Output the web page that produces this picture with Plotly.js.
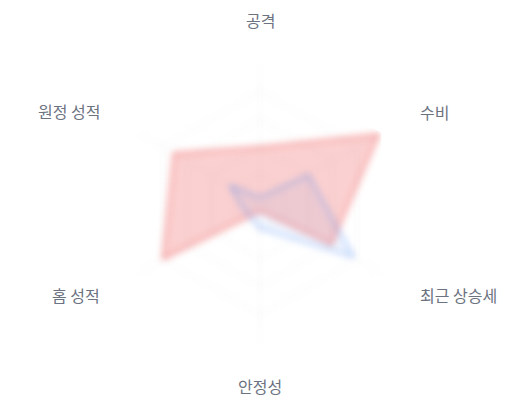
<!DOCTYPE html>
<html>
<head>
<meta charset="utf-8">
<script src="https://cdn.plot.ly/plotly-3.0.1.min.js"></script>
<style>
  html, body { margin: 0; padding: 0; background: #fff; }
  #chart { width: 520px; height: 400px; }
  .polarlayer .frontplot, .polarlayer .radial-grid, .polarlayer .angular-grid { filter: blur(3.5px); }
</style>
</head>
<body>
<div id="chart"></div>
<script>
const categories = ['공격', '수비', '최근 상승세', '안정성', '홈 성적', '원정 성적'];
const seriesRed = [40, 98, 59, 6, 80, 71];
const seriesBlue = [4, 40, 77, 18, 12, 25];

function closed(arr) { return arr.concat([arr[0]]); }

const W = 520, H = 400;
const CX = 260, CY = 203, LABEL_R = 183;

const traces = [
  {
    type: 'scatterpolar',
    name: 'A',
    r: closed(seriesRed),
    theta: closed(categories),
    fill: 'toself',
    fillcolor: 'rgba(239,68,68,0.25)',
    line: { color: 'rgba(239,68,68,0.6)', width: 2 },
    mode: 'lines',
    hoverinfo: 'skip'
  },
  {
    type: 'scatterpolar',
    name: 'B',
    r: closed(seriesBlue),
    theta: closed(categories),
    fill: 'toself',
    fillcolor: 'rgba(59,130,246,0.07)',
    line: { color: 'rgba(59,130,246,0.5)', width: 2 },
    mode: 'lines',
    hoverinfo: 'skip'
  }
];

// Category labels around the chart (same order/direction as the angular axis)
const annotations = categories.map(function (name, i) {
  const ang = (90 - 360 / categories.length * i) * Math.PI / 180;
  const c = Math.cos(ang), s = Math.sin(ang);
  const px = CX + LABEL_R * c, py = CY - LABEL_R * s;
  return {
    text: name,
    xref: 'paper', yref: 'paper',
    x: px / W, y: 1 - py / H,
    xanchor: c > 0.1 ? 'left' : (c < -0.1 ? 'right' : 'center'),
    yanchor: 'middle',
    showarrow: false,
    font: { size: 16, color: '#6b7280' }
  };
});

const layout = {
  width: W,
  height: H,
  margin: { l: 0, r: 0, t: 0, b: 0 },
  paper_bgcolor: '#ffffff',
  showlegend: false,
  font: { family: '"Noto Sans CJK KR", "Noto Sans", sans-serif', size: 16, color: '#6b7280' },
  annotations: annotations,
  polar: {
    domain: { x: [0.2308, 0.7692], y: [0.1425, 0.8425] },
    bgcolor: 'rgba(0,0,0,0)',
    gridshape: 'linear',
    radialaxis: {
      range: [0, 100],
      showticklabels: false,
      ticks: '',
      showline: false,
      gridcolor: '#f0f0f0',
      tickvals: [20, 40, 60, 80, 100]
    },
    angularaxis: {
      direction: 'clockwise',
      rotation: 90,
      ticks: '',
      showticklabels: false,
      showline: false,
      gridcolor: '#f3f3f3'
    }
  }
};

Plotly.newPlot('chart', traces, layout, { staticPlot: true, displayModeBar: false });
</script>
</body>
</html>
